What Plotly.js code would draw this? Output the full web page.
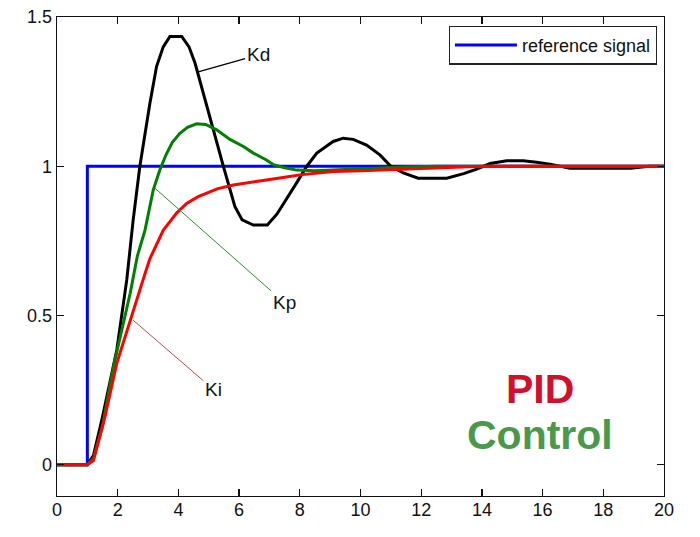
<!DOCTYPE html>
<html>
<head>
<meta charset="utf-8">
<script src="https://cdn.plot.ly/plotly-3.0.1.min.js"></script>
<style>html,body{margin:0;padding:0;background:#fff;}#chart{width:700px;height:537px;}</style>
</head>
<body>
<div id="chart"></div>
<script>
// Reference step signal
const refX = [0, 1, 1, 20];
const refY = [0, 0, 1, 1];

// Kd response (black)
const kdX = [0, 1, 1.2, 1.5, 1.97, 2.3, 2.51, 2.73, 3.06, 3.28, 3.5, 3.72, 4.11, 4.35, 4.55, 4.93, 5.2, 5.48, 5.86, 6.1, 6.47, 6.93, 7.25, 7.57, 7.9, 8.23, 8.56, 9.1, 9.43, 9.76, 10.2, 10.64, 11.0, 11.41, 11.9, 12.84, 13.4, 13.83, 14.27, 14.82, 15.36, 15.8, 16.24, 16.9, 18.9, 19.5, 20];
const kdY = [0, 0, 0.03, 0.16, 0.384, 0.62, 0.82, 1.0, 1.21, 1.334, 1.4, 1.435, 1.435, 1.4, 1.345, 1.2, 1.105, 1.0, 0.865, 0.82, 0.803, 0.803, 0.84, 0.89, 0.945, 1.0, 1.044, 1.083, 1.094, 1.09, 1.071, 1.038, 1.0, 0.978, 0.96, 0.96, 0.975, 0.99, 1.009, 1.018, 1.018, 1.013, 1.007, 0.993, 0.993, 1.0, 1.0];

// Kp response (green)
const kpX = [0, 1, 1.2, 1.5, 1.86, 2.2, 2.41, 2.65, 2.9, 3.17, 3.39, 3.6, 3.8, 4.05, 4.3, 4.6, 4.9, 5.26, 5.7, 6.14, 6.47, 6.9, 7.13, 7.5, 7.9, 8.5, 9.1, 9.8, 10.64, 11.5, 12.5, 20];
const kpY = [0, 0, 0.02, 0.13, 0.328, 0.48, 0.574, 0.70, 0.786, 0.92, 0.988, 1.04, 1.08, 1.11, 1.13, 1.142, 1.14, 1.122, 1.09, 1.066, 1.044, 1.021, 1.005, 0.995, 0.987, 0.985, 0.988, 0.99, 0.994, 0.997, 1.0, 1.0];

// Ki response (red)
const kiX = [0, 1, 1.2, 1.58, 1.97, 2.51, 2.9, 3.06, 3.34, 3.5, 3.94, 4.27, 4.65, 4.93, 5.3, 5.81, 6.4, 6.9, 7.5, 8.0, 8.67, 9.1, 10.0, 10.64, 11.5, 12.5, 14, 20];
const kiY = [0, 0, 0.014, 0.16, 0.34, 0.518, 0.64, 0.69, 0.752, 0.785, 0.843, 0.875, 0.898, 0.91, 0.925, 0.937, 0.947, 0.954, 0.963, 0.971, 0.978, 0.982, 0.985, 0.987, 0.99, 0.994, 1.0, 1.0];

const xTicks = [0, 2, 4, 6, 8, 10, 12, 14, 16, 18, 20];
const yTicks = [0, 0.5, 1, 1.5];
const yTickText = ['0', '0.5', '1', '1.5'];

const FONT = '"Liberation Sans Narrow", "Arial Narrow", "Liberation Sans", Arial, sans-serif';

const traces = [
  {x: refX, y: refY, mode: 'lines', name: 'reference signal', line: {color: '#0000ff', width: 3}, showlegend: true},
  {x: kdX, y: kdY, mode: 'lines', name: 'Kd', line: {color: '#000000', width: 3}, showlegend: false},
  {x: kpX, y: kpY, mode: 'lines', name: 'Kp', line: {color: '#008000', width: 3}, showlegend: false},
  {x: kiX, y: kiY, mode: 'lines', name: 'Ki', line: {color: '#ff0000', width: 3}, showlegend: false}
];

const axisCommon = {
  showgrid: false, zeroline: false, showline: true, linecolor: '#111', linewidth: 1.4,
  mirror: 'ticks', ticks: 'inside', ticklen: 7, tickwidth: 1.4, tickcolor: '#111',
  tickfont: {family: FONT, size: 18, color: '#111'}
};

const layout = {
  width: 700, height: 537,
  margin: {l: 57, r: 36, t: 17, b: 41, pad: 0},
  paper_bgcolor: '#ffffff', plot_bgcolor: '#ffffff',
  font: {family: FONT, size: 18, color: '#111'},
  xaxis: Object.assign({}, axisCommon, {range: [0, 20], tickmode: 'array', tickvals: xTicks, ticklabelstandoff: -3}),
  yaxis: Object.assign({}, axisCommon, {range: [-0.105, 1.5], tickmode: 'array', tickvals: yTicks, ticktext: yTickText, ticklabelstandoff: 0}),
  showlegend: true,
  legend: {
    x: 0.988, y: 0.982, xanchor: 'right', yanchor: 'top',
    bgcolor: '#ffffff', bordercolor: '#222', borderwidth: 1.2,
    font: {family: FONT, size: 18, color: '#111'},
    itemwidth: 62
  },
  annotations: [
    {x: 4.65, y: 1.316, xref: 'x', yref: 'y', text: 'Kd', showarrow: true, arrowhead: 0, arrowwidth: 1.2, arrowcolor: '#000', ax: 60, ay: -17, font: {family: FONT, size: 19, color: '#111'}},
    {x: 3.23, y: 0.926, xref: 'x', yref: 'y', text: 'Kp', showarrow: true, arrowhead: 0, arrowwidth: 1, arrowcolor: '#2e8b2e', ax: 129, ay: 114, font: {family: FONT, size: 19, color: '#111'}},
    {x: 2.51, y: 0.484, xref: 'x', yref: 'y', text: 'Ki', showarrow: true, arrowhead: 0, arrowwidth: 1, arrowcolor: '#b84a4a', ax: 80, ay: 69, font: {family: FONT, size: 19, color: '#111'}},
    {x: 0.7957, y: 0.2229, xref: 'paper', yref: 'paper', text: '<b>PID</b>', showarrow: false, xanchor: 'center', yanchor: 'middle', font: {family: '"Liberation Sans", Arial, sans-serif', size: 41, color: '#d0112b'}},
    {x: 0.7957, y: 0.1268, xref: 'paper', yref: 'paper', text: '<b>Control</b>', showarrow: false, xanchor: 'center', yanchor: 'middle', font: {family: '"Liberation Sans", Arial, sans-serif', size: 41, color: '#4a994a'}}
  ]
};

Plotly.newPlot('chart', traces, layout, {displayModeBar: false, staticPlot: true});
</script>
</body>
</html>
